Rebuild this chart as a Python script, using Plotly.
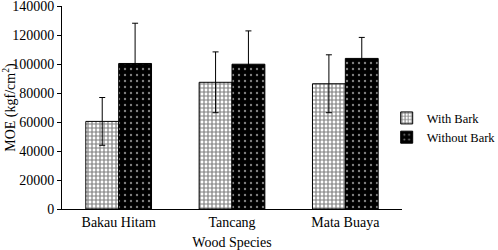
import plotly.graph_objects as go

categories = ["Bakau Hitam", "Tancang", "Mata Buaya"]
with_bark = [60500, 87500, 86500]
with_bark_sd = [16500, 21000, 20000]
without_bark = [100500, 100000, 104000]
without_bark_sd = [27800, 23000, 14500]
y_ticks = [0, 20000, 40000, 60000, 80000, 100000, 120000, 140000]

font = "Liberation Serif"

fig = go.Figure()
fig.add_trace(go.Bar(
    name="With Bark", x=categories, y=with_bark,
    error_y=dict(type="data", array=with_bark_sd, color="black", thickness=1, width=3),
    marker=dict(color="white", line=dict(color="black", width=1),
                pattern=dict(shape="+", fgcolor="black", bgcolor="white", size=4, solidity=0.5)),
))
fig.add_trace(go.Bar(
    name="Without Bark", x=categories, y=without_bark,
    error_y=dict(type="data", array=without_bark_sd, color="black", thickness=1, width=3),
    marker=dict(color="black", line=dict(color="black", width=1),
                pattern=dict(shape=".", fgcolor="white", bgcolor="black", size=6, solidity=0.12)),
))

fig.update_layout(
    width=498, height=250,
    margin=dict(l=62, r=96, t=6, b=41, autoexpand=False),
    paper_bgcolor="white", plot_bgcolor="white",
    barmode="group", bargap=0.42, bargroupgap=0,
    font=dict(family=font, size=14, color="black"),
    legend=dict(x=0.955, y=0.40, xanchor="left", yanchor="middle",
                font=dict(size=12.5, family=font), bgcolor="rgba(0,0,0,0)",
                borderwidth=0, itemwidth=30, tracegroupgap=0),
    xaxis=dict(
        title=dict(text="Wood Species", font=dict(size=14, family=font), standoff=13),
        showline=True, linecolor="black", linewidth=1, ticks="",
        showgrid=False, automargin=False,
        tickfont=dict(size=14, family=font),
    ),
    yaxis=dict(
        title=dict(text="MOE (kgf/cm<sup>2</sup>)", font=dict(size=14, family=font), standoff=4),
        range=[0, 140200], tickvals=y_ticks, ticktext=[str(v) for v in y_ticks],
        showline=True, linecolor="black", linewidth=1,
        ticks="outside", ticklen=4, tickcolor="black",
        showgrid=False, zeroline=False, automargin=False,
        ticklabeloverflow="allow",
        tickfont=dict(size=14, family=font),
    ),
)

fig.write_html("out.html", config={"displayModeBar": False},
               post_script="document.body.style.margin='0';document.body.style.overflow='hidden';")
